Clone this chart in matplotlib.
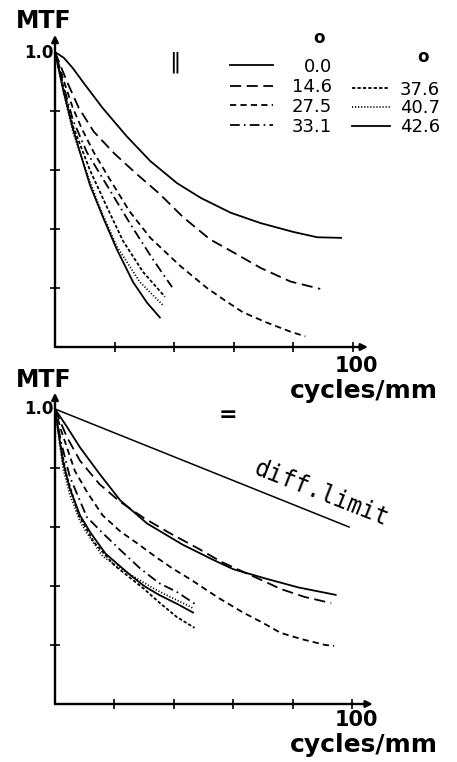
import matplotlib
matplotlib.use('Agg')
import matplotlib.pyplot as plt
from matplotlib.lines import Line2D

plt.rcParams['lines.scale_dashes'] = False
plt.rcParams['font.family'] = ['DejaVu Sans']

W, H = 457, 762

angles = ['0.0', '14.6', '27.5', '33.1', '37.6', '40.7', '42.6']

# ---- top panel (parallel, "||") ----
top_x_00 = [0, 3, 6, 10, 16, 24, 32, 41, 49, 59, 69, 80, 88, 96]
top_y_00 = [1.0, 0.98, 0.945, 0.89, 0.81, 0.715, 0.63, 0.555, 0.505, 0.455, 0.42, 0.39, 0.372, 0.37]
top_x_146 = [0, 4, 8, 13, 20, 27, 35, 43, 52, 60, 69, 79, 89]
top_y_146 = [1.0, 0.9, 0.81, 0.73, 0.655, 0.59, 0.52, 0.44, 0.365, 0.32, 0.268, 0.222, 0.197]
top_x_275 = [0, 3, 6, 9, 13, 18, 25, 32, 42, 51, 57, 63, 71, 79, 84]
top_y_275 = [1.0, 0.9, 0.81, 0.74, 0.66, 0.575, 0.46, 0.37, 0.275, 0.2, 0.158, 0.118, 0.083, 0.052, 0.036]
top_x_331 = [0, 3, 6, 10.7, 18.5, 26, 33, 39.3]
top_y_331 = [1.0, 0.88, 0.77, 0.66, 0.53, 0.405, 0.295, 0.203]
top_x_376 = [0, 3, 6, 11.7, 17.4, 22.8, 29.5, 36.9]
top_y_376 = [1.0, 0.87, 0.75, 0.60, 0.475, 0.36, 0.255, 0.17]
top_x_407 = [0, 3, 6, 10.7, 15.1, 20.8, 28.5, 36.2]
top_y_407 = [1.0, 0.86, 0.73, 0.59, 0.47, 0.34, 0.22, 0.142]
top_x_426 = [0, 3, 6, 8.4, 11.7, 16.1, 20.8, 26.2, 30.9, 35.2]
top_y_426 = [1.0, 0.86, 0.74, 0.66, 0.55, 0.44, 0.33, 0.22, 0.15, 0.10]

# ---- bottom panel (perpendicular, "=") ----
diff_x = [0, 99]
diff_y = [1.0, 0.6]
bot_x_00 = [0, 4, 8.4, 15, 22, 31, 43, 53, 60, 71, 82, 94.5]
bot_y_00 = [1.0, 0.94, 0.87, 0.78, 0.69, 0.612, 0.54, 0.49, 0.457, 0.425, 0.395, 0.37]
bot_x_146 = [0, 4, 8.4, 15, 22, 30, 38.5, 48.6, 56, 64, 70, 76, 84, 93]
bot_y_146 = [1.0, 0.905, 0.825, 0.745, 0.685, 0.63, 0.58, 0.525, 0.482, 0.445, 0.418, 0.39, 0.363, 0.342]
bot_x_275 = [0, 2, 4, 6.7, 11, 16, 22, 27.5, 34, 39.5, 46, 55, 63, 70, 76, 83, 91, 94]
bot_y_275 = [1.0, 0.93, 0.87, 0.79, 0.715, 0.64, 0.585, 0.546, 0.498, 0.46, 0.42, 0.36, 0.312, 0.275, 0.241, 0.22, 0.2, 0.197]
bot_x_331 = [0, 2, 5, 10.7, 16, 22, 28.5, 35, 41, 47.6]
bot_y_331 = [1.0, 0.89, 0.77, 0.634, 0.58, 0.522, 0.461, 0.41, 0.38, 0.336]
bot_x_376 = [0, 2, 4, 8, 13, 20, 25, 30, 35, 41, 47]
bot_y_376 = [1.0, 0.87, 0.77, 0.64, 0.55, 0.47, 0.43, 0.39, 0.345, 0.295, 0.258]
bot_x_407 = [0, 2.7, 5, 8.4, 10.7, 16.1, 25.1, 34.2, 46.5]
bot_y_407 = [1.0, 0.8, 0.71, 0.62, 0.58, 0.5, 0.44, 0.386, 0.325]
bot_x_426 = [0, 2.7, 5, 8.4, 12, 17, 25, 30, 35, 41, 46.5]
bot_y_426 = [1.0, 0.82, 0.73, 0.64, 0.58, 0.51, 0.44, 0.4, 0.37, 0.34, 0.31]

x_ticks = [20, 40, 60, 80, 100]
y_ticks = [0.2, 0.4, 0.6, 0.8]

top_series = [(top_x_00, top_y_00), (top_x_146, top_y_146), (top_x_275, top_y_275),
              (top_x_331, top_y_331), (top_x_376, top_y_376), (top_x_407, top_y_407),
              (top_x_426, top_y_426)]
bot_series = [(bot_x_00, bot_y_00), (bot_x_146, bot_y_146), (bot_x_275, bot_y_275),
              (bot_x_331, bot_y_331), (bot_x_376, bot_y_376), (bot_x_407, bot_y_407),
              (bot_x_426, bot_y_426)]

styles = {
    '0.0': dict(linestyle='-'),
    '14.6': dict(dashes=(8, 4)),
    '27.5': dict(dashes=(4.5, 3)),
    '33.1': dict(dashes=(7, 3, 1.2, 3)),
    '37.6': dict(dashes=(2.4, 1.5)),
    '40.7': dict(dashes=(0.8, 1.4)),
    '42.6': dict(linestyle='-'),
}
LW = 1.3


def fx(px):
    return px / W


def fy(py):
    return 1 - py / H


fig = plt.figure(figsize=(W / 100, H / 100), dpi=100)


def make_axes(top_px, bottom_px, left_px=55, right_px=353, arrow_y=1.058, arrow_x=105):
    ax = fig.add_axes([fx(left_px), fy(bottom_px), (right_px - left_px) / W, (bottom_px - top_px) / H])
    ax.set_xlim(0, 100)
    ax.set_ylim(0, 1)
    for s in ax.spines.values():
        s.set_visible(False)
    ax.set_xticks(x_ticks)
    ax.set_yticks(y_ticks)
    ax.set_xticklabels([])
    ax.set_yticklabels([])
    ax.tick_params(direction='inout', length=7, width=1.2, color='k')
    ax.annotate('', xy=(arrow_x, 0), xytext=(0, 0), xycoords='data',
                arrowprops=dict(arrowstyle='-|>', lw=1.7, color='k', mutation_scale=10,
                                shrinkA=0, shrinkB=0), annotation_clip=False)
    ax.annotate('', xy=(0, arrow_y), xytext=(0, 0), xycoords='data',
                arrowprops=dict(arrowstyle='-|>', lw=1.7, color='k', mutation_scale=10,
                                shrinkA=0, shrinkB=0), annotation_clip=False)
    return ax


ax1 = make_axes(52, 347)
for (xs, ys), a in zip(top_series, angles):
    ax1.plot(xs, ys, color='k', lw=LW, clip_on=False, **styles[a])

ax2 = make_axes(409, 704, right_px=352, arrow_y=1.055, arrow_x=107)
ax2.plot(diff_x, diff_y, color='k', lw=1.1, clip_on=False)
for (xs, ys), a in zip(bot_series, angles):
    ax2.plot(xs, ys, color='k', lw=LW, clip_on=False, **styles[a])
ax2.text(89.6, 0.714, 'diff.limit', rotation=-21.5, rotation_mode='anchor',
         ha='center', va='center', fontsize=17, family=['DejaVu Sans Mono'])

# ---- texts ----
for y_mtf, y_one, y_100, y_cyc in [(21, 53, 366, 391), (380, 409, 720, 745)]:
    fig.text(fx(16), fy(y_mtf), 'MTF', ha='left', va='center', fontsize=17, fontweight='bold')
    fig.text(fx(54), fy(y_one), '1.0', ha='right', va='center', fontsize=12, fontweight='bold')
    fig.text(fx(356), fy(y_100), '100', ha='center', va='center', fontsize=15, fontweight='bold')
    fig.text(fx(364), fy(y_cyc), 'cycles/mm', ha='center', va='center', fontsize=18, fontweight='bold')

fig.text(fx(175), fy(62), '‖', ha='center', va='center', fontsize=16)
fig.text(fx(228), fy(415), '=', ha='center', va='center', fontsize=16, fontweight='bold')

# ---- legend (top panel) ----
fig.text(fx(319), fy(38), 'o', ha='center', va='center', fontsize=12, fontweight='bold')
fig.text(fx(423), fy(57), 'o', ha='center', va='center', fontsize=12, fontweight='bold')
left_rows = [(angles[0], 65, 67), (angles[1], 86, 87), (angles[2], 105, 107), (angles[3], 125, 127)]
right_rows = [(angles[4], 88, 90), (angles[5], 107, 108), (angles[6], 126, 127)]
for a, yl, yt in left_rows:
    fig.add_artist(Line2D([fx(230), fx(273)], [fy(yl), fy(yl)], transform=fig.transFigure,
                          color='k', lw=LW, **styles[a]))
    fig.text(fx(332), fy(yt), a, ha='right', va='center', fontsize=13)
for a, yl, yt in right_rows:
    fig.add_artist(Line2D([fx(352), fx(390)], [fy(yl), fy(yl)], transform=fig.transFigure,
                          color='k', lw=LW, **styles[a]))
    fig.text(fx(440), fy(yt), a, ha='right', va='center', fontsize=13)

fig.savefig('out.png', dpi=100)
